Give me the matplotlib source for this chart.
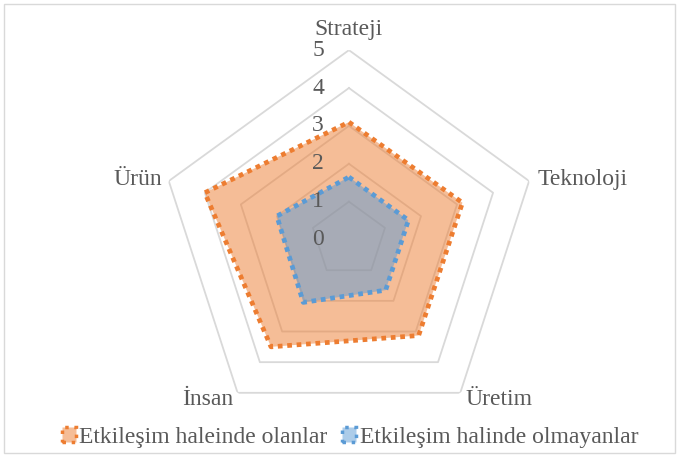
import numpy as np
import matplotlib
matplotlib.use("Agg")
import matplotlib.pyplot as plt
from matplotlib.patches import Patch, Rectangle

categories = ["Strateji", "Teknoloji", "Üretim", "İnsan", "Ürün"]
olanlar = [3.1, 3.15, 3.13, 3.5, 4.0]
olmayanlar = [1.65, 1.65, 1.65, 2.05, 2.0]
levels = [0, 1, 2, 3, 4, 5]
series_names = ["Etkileşim haleinde olanlar", "Etkileşim halinde olmayanlar"]

plt.rcParams['font.family'] = ['Liberation Serif', 'DejaVu Serif']
orange = "#ED7D31"
blue = "#5B9BD5"
txt = "#595959"
px = 72 / 100  # points per pixel

fig = plt.figure(figsize=(6.79, 4.57), dpi=100)
fig.patches.append(Rectangle((0.006, 0.009), 0.988, 0.983, transform=fig.transFigure,
                             fill=False, edgecolor="#D9D9D9", lw=1.0))
ax = fig.add_axes([0.2349, 0.0613, 0.558, 0.829], projection='polar')
ax.set_theta_offset(np.pi / 2)
ax.set_theta_direction(-1)
ax.set_ylim(0, 5)
ax.grid(False)
ax.spines['polar'].set_visible(False)
ax.set_xticks([])
ax.set_yticks([])
ax.patch.set_alpha(0)

n = len(categories)
theta = np.linspace(0, 2 * np.pi, n, endpoint=False)
tc = np.append(theta, theta[0])

for lv in levels[1:]:
    ax.plot(tc, [lv] * (n + 1), color="#D9D9D9", lw=1.3, zorder=1)

for vals, col in [(olanlar, orange), (olmayanlar, blue)]:
    v = np.append(vals, vals[0])
    ax.fill(tc, v, color=col, alpha=0.5, lw=0, zorder=2)
for vals, col in [(olanlar, orange), (olmayanlar, blue)]:
    v = np.append(vals, vals[0])
    ax.plot(tc, v, color=col, lw=3.4, ls=(0, (1.0, 1.0)), zorder=3)

for lv in levels:
    ax.annotate(str(lv), xy=(0, lv), xytext=(-25 * px, 0), textcoords='offset points',
                ha='right', va='center', fontsize=17, color=txt)

offsets = [(0, 15, 'center', 'baseline'), (8, -4, 'left', 'baseline'),
           (5, -12, 'left', 'baseline'), (-4, -12, 'right', 'baseline'),
           (-7, -4, 'right', 'baseline')]
for t, lab, (dx, dy, ha, va) in zip(theta, categories, offsets):
    ax.annotate(lab, xy=(t, 5), xytext=(dx * px, dy * px), textcoords='offset points',
                ha=ha, va=va, fontsize=17, color=txt)

handles = [Patch(facecolor=matplotlib.colors.to_rgba(c, 0.5), edgecolor=c, ls=':', lw=2.5)
           for c in (orange, blue)]
fig.legend(handles, series_names, loc='lower left', bbox_to_anchor=(0.091, 0.020),
           ncol=2, frameon=False, fontsize=17, labelcolor=txt, borderpad=0,
           borderaxespad=0, handlelength=0.6, handleheight=0.6, handletextpad=0.15,
           columnspacing=0.6)

fig.savefig("out.png", dpi=100)
